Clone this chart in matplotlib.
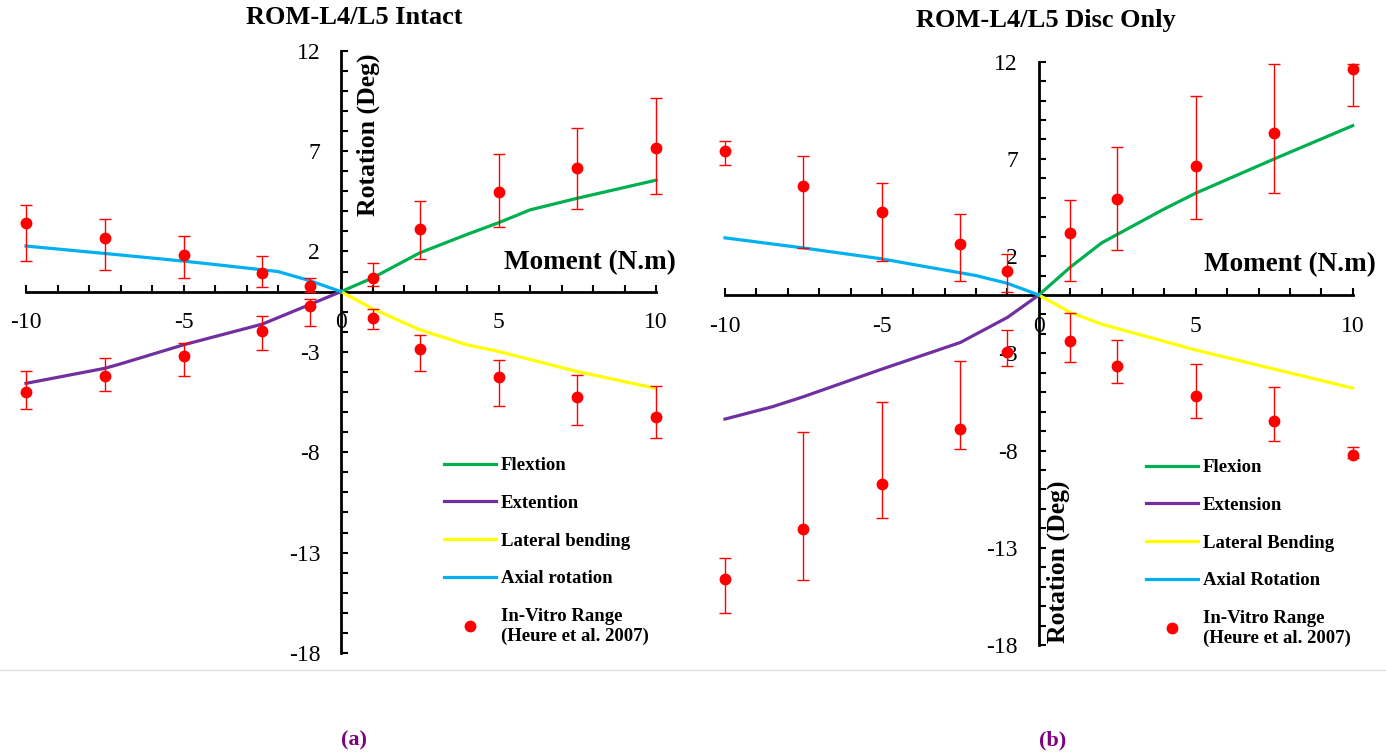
import numpy as np
import matplotlib.pyplot as plt
from matplotlib.lines import Line2D

plt.rcParams['font.family'] = 'Liberation Serif'
plt.rcParams['axes.unicode_minus'] = False

# ---- (a) ROM-L4/L5 Intact ----
a_flex_x = [0, 1, 2.5, 4, 5, 6, 7.5, 10]
a_flex_y = [0, 0.68, 1.93, 2.85, 3.43, 4.07, 4.65, 5.55]
a_ext_x = [-10, -7.5, -7, -5, -2.5, -1, 0]
a_ext_y = [-4.57, -3.82, -3.6, -2.65, -1.62, -0.65, 0]
a_lat_x = [0, 1, 2.5, 4, 5, 7.5, 10]
a_lat_y = [0, -0.85, -1.9, -2.65, -2.98, -3.98, -4.82]
a_axi_x = [-10, -7.5, -5, -4, -2, -1, 0]
a_axi_y = [2.27, 1.9, 1.52, 1.35, 1.0, 0.55, 0]

vit_x = [-10, -7.5, -5, -2.5, -1, 1, 2.5, 5, 7.5, 10]
a_up_mean = [3.4, 2.67, 1.83, 0.93, 0.3, 0.68, 3.1, 4.97, 6.15, 7.13]
a_up_hi = [4.3, 3.63, 2.77, 1.77, 0.68, 1.43, 4.52, 6.83, 8.13, 9.63]
a_up_lo = [1.52, 1.07, 0.68, 0.23, 0.0, 0.3, 1.6, 3.22, 4.13, 4.85]
a_lo_mean = [-4.98, -4.2, -3.2, -1.98, -0.7, -1.32, -2.87, -4.27, -5.23, -6.23]
a_lo_hi = [-3.93, -3.32, -2.57, -1.23, -0.37, -0.85, -2.15, -3.43, -4.15, -4.7]
a_lo_lo = [-5.85, -4.95, -4.18, -2.93, -1.73, -1.87, -3.93, -5.7, -6.65, -7.27]

# ---- (b) ROM-L4/L5 Disc Only ----
b_flex_x = [0, 1, 2, 4, 5, 7.5, 10]
b_flex_y = [0, 1.43, 2.68, 4.43, 5.24, 7.0, 8.71]
b_ext_x = [-10, -8.5, -7.5, -5, -2.5, -1, 0]
b_ext_y = [-6.38, -5.75, -5.23, -3.81, -2.44, -1.15, 0]
b_lat_x = [0, 1, 2, 5, 7.5, 10]
b_lat_y = [0, -0.89, -1.5, -2.83, -3.81, -4.79]
b_axi_x = [-10, -7.5, -5, -4, -2, -1, 0]
b_axi_y = [2.94, 2.42, 1.86, 1.57, 1.0, 0.6, 0]

b_up_mean = [7.43, 5.63, 4.29, 2.6, 1.22, 3.19, 4.92, 6.66, 8.35, 11.6]
b_up_hi = [7.9, 7.17, 5.78, 4.17, 2.1, 4.9, 7.63, 10.22, 11.89, 11.89]
b_up_lo = [6.7, 2.42, 1.77, 0.74, 0.13, 0.74, 2.32, 3.91, 5.25, 9.74]
b_lo_mean = [-14.62, -12.01, -9.7, -6.9, -2.95, -2.39, -3.67, -5.18, -6.5, -8.23]
b_lo_hi = [-13.5, -7.05, -5.48, -3.4, -1.79, -0.95, -2.3, -3.55, -4.72, -7.81]
b_lo_lo = [-16.34, -14.64, -11.46, -7.91, -3.67, -3.45, -4.53, -6.35, -7.5, -8.4]

a_labels = ['Flextion', 'Extention', 'Lateral bending', 'Axial rotation',
            'In-Vitro Range\n(Heure et al. 2007)']
b_labels = ['Flexion', 'Extension', 'Lateral Bending', 'Axial Rotation',
            'In-Vitro Range\n(Heure et al. 2007)']

GREEN = '#00B050'
PURPLE = '#7030A0'
YELLOW = '#FFFF00'
BLUE = '#00B0F0'
RED = '#FF0000'

W, H = 1386, 754
fig = plt.figure(figsize=(W / 100, H / 100), dpi=100)


def draw(rect, flex, ext, lat, axi, up, lo, labels, title, title_xy,
         ylab_xy, mom_xy, leg_xy, cap_xy, cap):
    ax = fig.add_axes(rect)
    ax.set_xlim(-10, 10)
    ax.set_ylim(-18, 12)
    for x, y, c in [(flex[0], flex[1], GREEN), (ext[0], ext[1], PURPLE),
                    (lat[0], lat[1], YELLOW), (axi[0], axi[1], BLUE)]:
        ax.plot(x, y, color=c, lw=2.3, zorder=3, clip_on=False)
    for mean, hi, lo_ in [up, lo]:
        mean = np.array(mean)
        yerr = [mean - np.array(lo_), np.array(hi) - mean]
        ax.errorbar(vit_x, mean, yerr=yerr, fmt='o', color=RED, ms=7.5,
                    ecolor=RED, elinewidth=1, capsize=4, capthick=1,
                    zorder=4, clip_on=False)

    ax.spines['left'].set_position(('data', 0))
    ax.spines['bottom'].set_position(('data', 0))
    ax.spines['top'].set_visible(False)
    ax.spines['right'].set_visible(False)
    ax.spines['left'].set_linewidth(2)
    ax.spines['bottom'].set_linewidth(2)
    ax.set_xticks([-10, -5, 0, 5, 10])
    ax.set_xticks(np.arange(-10, 11, 1), minor=True)
    ax.set_yticks([12, 7, 2, -3, -8, -13, -18])
    ax.set_yticks(np.arange(-18, 13, 1), minor=True)
    ax.tick_params(which='both', direction='in', length=5, width=1.5)
    ax.tick_params(axis='x', which='major', pad=15, labelsize=17)
    ax.tick_params(axis='y', which='major', pad=15, labelsize=17)
    ax.set_facecolor('none')

    fig.text(title_xy[0] / W, 1 - title_xy[1] / H, title, ha='center',
             va='center', fontsize=19, fontweight='bold')
    fig.text(ylab_xy[0] / W, 1 - ylab_xy[1] / H, 'Rotation (Deg)',
             rotation=90, ha='center', va='center', fontsize=18.5,
             fontweight='bold')
    fig.text(mom_xy[0] / W, 1 - mom_xy[1] / H, 'Moment (N.m)', ha='right',
             va='center', fontsize=19.5, fontweight='bold')
    fig.text(cap_xy[0] / W, 1 - cap_xy[1] / H, cap, ha='center',
             va='center', fontsize=16, fontweight='bold', color='#800080')

    handles = [Line2D([], [], color=GREEN, lw=2.3),
               Line2D([], [], color=PURPLE, lw=2.3),
               Line2D([], [], color=YELLOW, lw=2.3),
               Line2D([], [], color=BLUE, lw=2.3),
               Line2D([], [], color=RED, ls='none', marker='o', ms=7.5)]
    ax.legend(handles, labels, loc='upper left',
              bbox_to_anchor=(leg_xy[0] / W, 1 - leg_xy[1] / H),
              bbox_transform=fig.transFigure, frameon=False,
              borderpad=0, borderaxespad=0, handlelength=2.75,
              handletextpad=0.3, labelspacing=1.1,
              prop={'family': 'Liberation Serif', 'weight': 'bold',
                    'size': 13.5})
    return ax


draw([26 / W, 1 - 653 / H, 630 / W, 602.3 / H],
     (a_flex_x, a_flex_y), (a_ext_x, a_ext_y), (a_lat_x, a_lat_y),
     (a_axi_x, a_axi_y),
     (a_up_mean, a_up_hi, a_up_lo), (a_lo_mean, a_lo_hi, a_lo_lo),
     a_labels, 'ROM-L4/L5 Intact', (354, 18), (368, 135), (676, 263),
     (444, 457), (354, 740), '(a)')

draw([725 / W, 1 - 645 / H, 627.7 / W, 583.3 / H],
     (b_flex_x, b_flex_y), (b_ext_x, b_ext_y), (b_lat_x, b_lat_y),
     (b_axi_x, b_axi_y),
     (b_up_mean, b_up_hi, b_up_lo), (b_lo_mean, b_lo_hi, b_lo_lo),
     b_labels, 'ROM-L4/L5 Disc Only', (1046, 20), (1058, 562), (1376, 265),
     (1146, 459), (1053, 740), '(b)')

fig.add_artist(Line2D([0, 1], [1 - 670 / H, 1 - 670 / H],
                      transform=fig.transFigure, color='#dcdcdc', lw=1))

fig.savefig('out.png', dpi=100)
